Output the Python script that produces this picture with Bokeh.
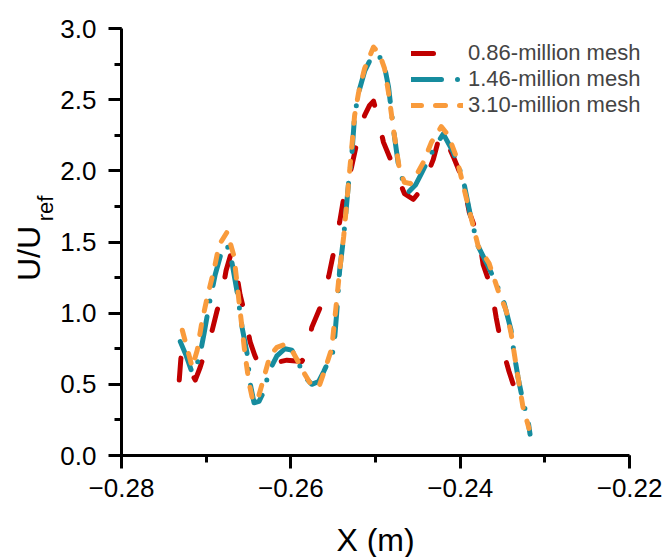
import math
from bokeh.plotting import figure
from bokeh.layouts import row, column
from bokeh.models import (Range1d, SingleIntervalTicker, CustomJSTickFormatter,
                          Legend, LegendItem)
from bokeh.core.properties import value
from bokeh.embed import file_html
from bokeh.resources import INLINE

# ---------------- data ----------------
x_086 = [-0.27318, -0.27294, -0.27212, -0.27129, -0.27071, -0.27012, -0.26929, -0.26871,
         -0.26824, -0.26765, -0.26706, -0.26647, -0.26600, -0.26541, -0.26482, -0.26424,
         -0.26365, -0.26282, -0.26200, -0.26047, -0.25871, -0.25812, -0.25753, -0.25647,
         -0.25553, -0.25494, -0.25424, -0.25376, -0.25282, -0.25224, -0.25129, -0.25071,
         -0.25024, -0.24988, -0.24906, -0.24788, -0.24659, -0.24553, -0.24459, -0.24318,
         -0.24247, -0.24212, -0.24082, -0.23965, -0.23894, -0.23776, -0.23729, -0.23635,
         -0.23576, -0.23518, -0.23424, -0.23341, -0.23282, -0.23247]
y_086 = [0.53, 0.72, 0.62, 0.53, 0.62, 0.73, 0.88, 1.02,
         1.10, 1.30, 1.42, 1.30, 1.13, 0.99, 0.80, 0.70,
         0.62, 0.62, 0.65, 0.67, 0.66, 0.72, 0.90, 1.05,
         1.26, 1.43, 1.64, 1.81, 2.03, 2.19, 2.39, 2.46,
         2.49, 2.41, 2.20, 2.03, 1.84, 1.80, 1.87, 2.08,
         2.24, 2.27, 2.10, 1.93, 1.71, 1.52, 1.34, 1.18,
         0.97, 0.79, 0.59, 0.44, 0.41, 0.38]

x_146 = [-0.27306, -0.27235, -0.27165, -0.27082, -0.27024, -0.26965, -0.26894, -0.26824,
         -0.26753, -0.26694, -0.26635, -0.26576, -0.26518, -0.26482, -0.26435, -0.26376,
         -0.26318, -0.26259, -0.26165, -0.26071, -0.25988, -0.25929, -0.25847, -0.25753,
         -0.25671, -0.25612, -0.25494, -0.25459, -0.25424, -0.25376, -0.25318, -0.25282,
         -0.25247, -0.25200, -0.25129, -0.25047, -0.24988, -0.24906, -0.24847, -0.24788,
         -0.24718, -0.24612, -0.24529, -0.24459, -0.24318, -0.24200, -0.24082, -0.23965,
         -0.23871, -0.23788, -0.23671, -0.23576, -0.23482, -0.23400, -0.23365, -0.23318,
         -0.23259, -0.23200, -0.23176]
y_146 = [0.80, 0.70, 0.58, 0.68, 0.86, 1.06, 1.27, 1.42,
         1.48, 1.35, 1.15, 0.90, 0.72, 0.51, 0.37, 0.38,
         0.45, 0.59, 0.70, 0.75, 0.74, 0.68, 0.56, 0.50,
         0.52, 0.59, 0.74, 1.00, 1.30, 1.54, 1.92, 2.10,
         2.39, 2.55, 2.70, 2.80, 2.82, 2.77, 2.59, 2.29,
         1.99, 1.85, 1.90, 1.98, 2.15, 2.26, 2.13, 1.94,
         1.66, 1.47, 1.33, 1.21, 1.07, 0.88, 0.72, 0.55,
         0.38, 0.25, 0.15]

x_310 = [-0.27282, -0.27165, -0.27106, -0.27047, -0.26988, -0.26906, -0.26847, -0.26753,
         -0.26671, -0.26612, -0.26541, -0.26494, -0.26447, -0.26388, -0.26318, -0.26247,
         -0.26165, -0.26071, -0.25988, -0.25906, -0.25835, -0.25753, -0.25671, -0.25600,
         -0.25518, -0.25459, -0.25424, -0.25376, -0.25318, -0.25247, -0.25200, -0.25129,
         -0.25024, -0.24953, -0.24894, -0.24847, -0.24788, -0.24718, -0.24659, -0.24588,
         -0.24518, -0.24435, -0.24341, -0.24224, -0.24141, -0.24047, -0.23929, -0.23788,
         -0.23659, -0.23553, -0.23459, -0.23400, -0.23318, -0.23259, -0.23188]
y_310 = [0.88, 0.62, 0.74, 0.95, 1.11, 1.31, 1.48, 1.57,
         1.40, 1.08, 0.71, 0.51, 0.38, 0.40, 0.55, 0.70,
         0.76, 0.78, 0.74, 0.65, 0.57, 0.49, 0.48, 0.60,
         0.75, 1.09, 1.30, 1.54, 1.92, 2.39, 2.55, 2.72,
         2.87, 2.82, 2.72, 2.55, 2.29, 2.01, 1.92, 1.91,
         1.97, 2.06, 2.20, 2.31, 2.25, 2.10, 1.81, 1.47,
         1.35, 1.16, 1.02, 0.86, 0.55, 0.34, 0.19]

labels = ["0.86-million mesh", "1.46-million mesh", "3.10-million mesh"]
colors = ["#C00000", "#168C9E", "#F99B3C"]
dashes = ["22 33", "30 16 0 16", "10 14"]

X_MIN, X_MAX = -0.28, -0.22
Y_MIN, Y_MAX = 0.0, 3.0

FONT = "Liberation Sans"
W, H = 667, 557
LAB_W = 57          # left strip holding the rotated y title
XLAB_H = 40         # bottom strip holding the x title
MAIN_W, MAIN_H = W - LAB_W, H - XLAB_H

# ---------------- main plot ----------------
PX_PER_X = 510 / (X_MAX - X_MIN)
p = figure(width=MAIN_W, height=MAIN_H, title=None,
           x_range=Range1d(X_MIN, X_MAX + 30 / PX_PER_X), y_range=Range1d(Y_MIN, Y_MAX),
           output_backend="svg", toolbar_location=None,
           min_border_left=119 - LAB_W, min_border_right=8, min_border_top=28,
           min_border_bottom=MAIN_H - 455)
p.outline_line_color = None
p.grid.visible = False

renderers = []
for xs, ys, c, d in zip([x_086, x_146, x_310], [y_086, y_146, y_310], colors, dashes):
    r = p.line(xs, ys, line_color=c, line_width=5, line_dash=d, line_cap="round", line_join="round")
    renderers.append(r)

p.xaxis.ticker = SingleIntervalTicker(interval=0.02, num_minor_ticks=2)
p.yaxis.ticker = SingleIntervalTicker(interval=0.5, num_minor_ticks=2)
p.xaxis.bounds = (X_MIN, X_MAX)
p.xaxis.formatter = CustomJSTickFormatter(code="return (tick < -1e-9 ? '\u2212' : '') + Math.abs(tick).toFixed(2);")
p.yaxis.formatter = CustomJSTickFormatter(code="return Math.abs(tick).toFixed(1);")
for ax in (p.xaxis[0], p.yaxis[0]):
    ax.axis_line_width = 3
    ax.axis_line_color = "black"
    ax.major_tick_line_width = 3
    ax.minor_tick_line_width = 3
    ax.major_tick_in = 0
    ax.major_tick_out = 13
    ax.minor_tick_in = 0
    ax.minor_tick_out = 7
    ax.major_label_text_font = FONT
    ax.major_label_text_font_size = "26px"
    ax.major_label_text_color = "black"
p.xaxis.major_label_standoff = 10
p.yaxis.major_label_standoff = 12

legend = Legend(items=[LegendItem(label=l, renderers=[r]) for l, r in zip(labels, renderers)],
                location=(290, 337), border_line_color=None, background_fill_alpha=0,
                label_text_font=FONT, label_text_font_size="22px",
                glyph_width=52, glyph_height=20, label_height=20, label_standoff=5,
                spacing=0, padding=5, margin=0)
p.add_layout(legend)


def strip(width, height, x_range):
    f = figure(width=width, height=height, x_range=x_range, y_range=Range1d(0, height),
               output_backend="svg", toolbar_location=None, min_border=0, title=None,
               x_axis_type=None, y_axis_type=None)
    f.outline_line_color = None
    f.grid.visible = False
    return f


# ---------------- y-axis title (U/U_ref) ----------------
lab = strip(LAB_W, H, Range1d(0, LAB_W))
lab.text(x=[28], y=[H - 253], text=["U/U"], angle=math.pi / 2, text_align="center",
         text_baseline="middle", text_font=value(FONT), text_font_size="32px", text_color="black")
lab.text(x=[45], y=[H - 208], text=["ref"], angle=math.pi / 2, text_align="center",
         text_baseline="middle", text_font=value(FONT), text_font_size="22px", text_color="black")

# ---------------- x-axis title (centred on the axis, shares the x range) ----------------
xlab = strip(MAIN_W, XLAB_H, p.x_range)
xlab.text(x=[(X_MIN + X_MAX) / 2], y=[H - 539], text=["X (m)"], text_align="center",
          text_baseline="middle", text_font=value(FONT), text_font_size="32px", text_color="black")

layout = row(lab, column(p, xlab, spacing=0), spacing=0)
open("out.html", "w").write(file_html(layout, INLINE))
